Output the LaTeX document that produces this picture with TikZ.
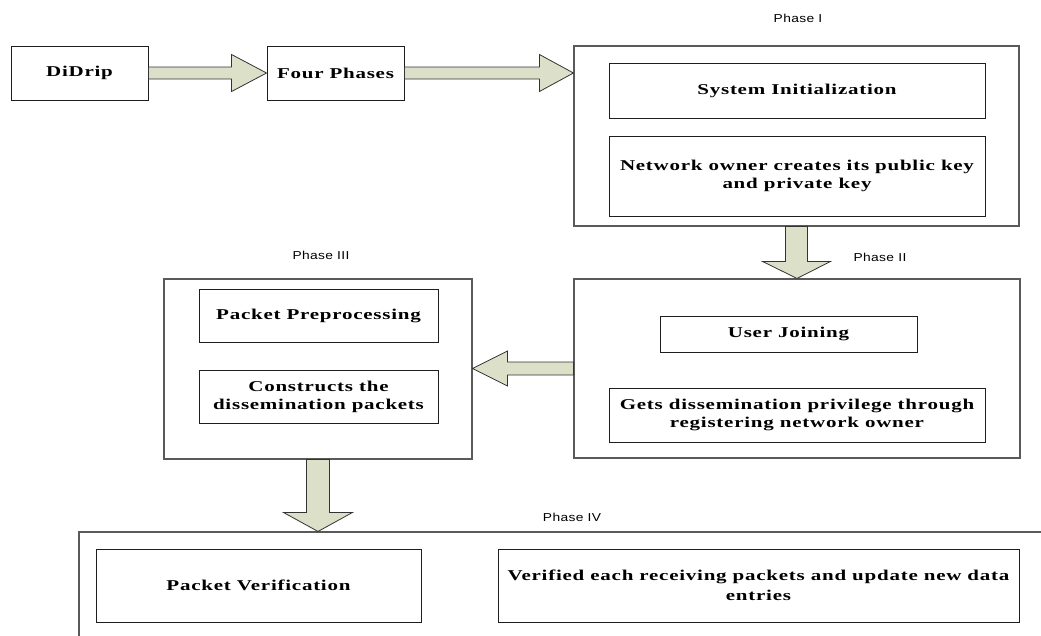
\documentclass[tikz,border=0pt]{standalone}
\usepackage{fontspec}
\setmainfont{Liberation Serif}
\newfontfamily\boxfont[FakeStretch=1.4,LetterSpace=5]{Liberation Serif Bold}
\newfontfamily\phasefont[FakeStretch=1.2,LetterSpace=3]{Liberation Sans}
\usetikzlibrary{calc}
\definecolor{arrowfill}{RGB}{221,224,200}
\definecolor{outerline}{RGB}{90,90,90}
\definecolor{innerline}{RGB}{30,30,30}
\begin{document}
\begin{tikzpicture}[x=1pt,y=-1pt,
  outerbox/.style={draw=outerline,line width=1.1pt,rectangle,inner sep=0pt,fill=white},
  innerbox/.style={draw=innerline,line width=0.9pt,rectangle,inner sep=0pt,align=center,
    font=\boxfont\fontsize{15}{18}\selectfont},
  phaselabel/.style={inner sep=0pt,font=\phasefont\fontsize{11.5}{13}\selectfont},
  blockarrow/.style={draw=black!80,line width=0.8pt,fill=arrowfill,line join=miter}]
\path[use as bounding box,clip] (0,0) rectangle (1041,635);
\fill[white] (0,0) rectangle (1041,635);

% top row
\node[innerbox,minimum width=137,minimum height=54] (didrip) at (79.5,73) {DiDrip};
\node[innerbox,minimum width=137,minimum height=54] (four) at (335.5,73) {Four Phases};

% Phase I
\node[outerbox,minimum width=445,minimum height=180] (ph1) at (796.5,136) {};
\node[innerbox,minimum width=376,minimum height=55] (sysinit) at (797,90.5) {System Initialization};
\node[innerbox,minimum width=376,minimum height=80] (netown) at (797,176) {Network owner creates its public key\\and private key};
\node[phaselabel] (lab1) at (798,18) {Phase I};

% Phase II
\node[outerbox,minimum width=446,minimum height=179] (ph2) at (797,368.5) {};
\node[innerbox,minimum width=257,minimum height=36] (userjoin) at (788.5,334) {User Joining};
\node[innerbox,minimum width=376,minimum height=54] (gets) at (797,415) {Gets dissemination privilege through\\registering network owner};
\node[phaselabel] (lab2) at (880,257) {Phase II};

% Phase III
\node[outerbox,minimum width=308,minimum height=180] (ph3) at (318,369) {};
\node[innerbox,minimum width=239,minimum height=53] (prep) at (318.5,315.5) {Packet Preprocessing};
\node[innerbox,minimum width=239,minimum height=53] (constr) at (318.5,396.5) {Constructs the\\dissemination packets};
\node[phaselabel] (lab3) at (321,255) {Phase III};

% Phase IV
\node[outerbox,minimum width=991,minimum height=128] (ph4) at (574.5,596) {};
\node[innerbox,minimum width=325,minimum height=73] (pver) at (258.5,585.5) {Packet Verification};
\node[innerbox,minimum width=521,minimum height=73,font=\boxfont\fontsize{15}{20}\selectfont] (verif) at (758.5,585.5) {Verified each receiving packets and update new data\\entries};
\node[phaselabel] (lab4) at (572,517) {Phase IV};

% block arrows
\draw[blockarrow] let \p1=(didrip.east), \p2=(four.west) in
  (\x1,\y1-6) -- (\x2-35,\y1-6) -- (\x2-35,\y1-18.5) -- (\x2,\y2)
  -- (\x2-35,\y1+18.5) -- (\x2-35,\y1+6) -- (\x1,\y1+6) -- cycle;
\draw[blockarrow] let \p1=(four.east), \p2=(ph1.west |- four.east) in
  (\x1,\y1-6) -- (\x2-34,\y1-6) -- (\x2-34,\y1-18.5) -- (\x2,\y2)
  -- (\x2-34,\y1+18.5) -- (\x2-34,\y1+6) -- (\x1,\y1+6) -- cycle;
\draw[blockarrow] let \p1=(ph1.south), \p2=(ph2.north) in
  (\x1-11,\y1) -- (\x1-11,\y2+17) -- (\x1-34,\y2+17) -- (\x2,\y2)
  -- (\x1+34,\y2+17) -- (\x1+11,\y2+17) -- (\x1+11,\y1) -- cycle;
\draw[blockarrow] let \p1=(ph2.west), \p2=(ph3.east) in
  (\x1,\y1-6.5) -- (\x2+35,\y1-6.5) -- (\x2+35,\y1-17.5) -- (\x2,\y1)
  -- (\x2+35,\y1+17.5) -- (\x2+35,\y1+6.5) -- (\x1,\y1+6.5) -- cycle;
\draw[blockarrow] let \p1=(ph3.south), \p2=(ph3.south |- ph4.north) in
  (\x1-11.5,\y1) -- (\x1-11.5,\y2+19) -- (\x1-34.5,\y2+19) -- (\x2,\y2)
  -- (\x1+34.5,\y2+19) -- (\x1+11.5,\y2+19) -- (\x1+11.5,\y1) -- cycle;
\end{tikzpicture}
\end{document}
